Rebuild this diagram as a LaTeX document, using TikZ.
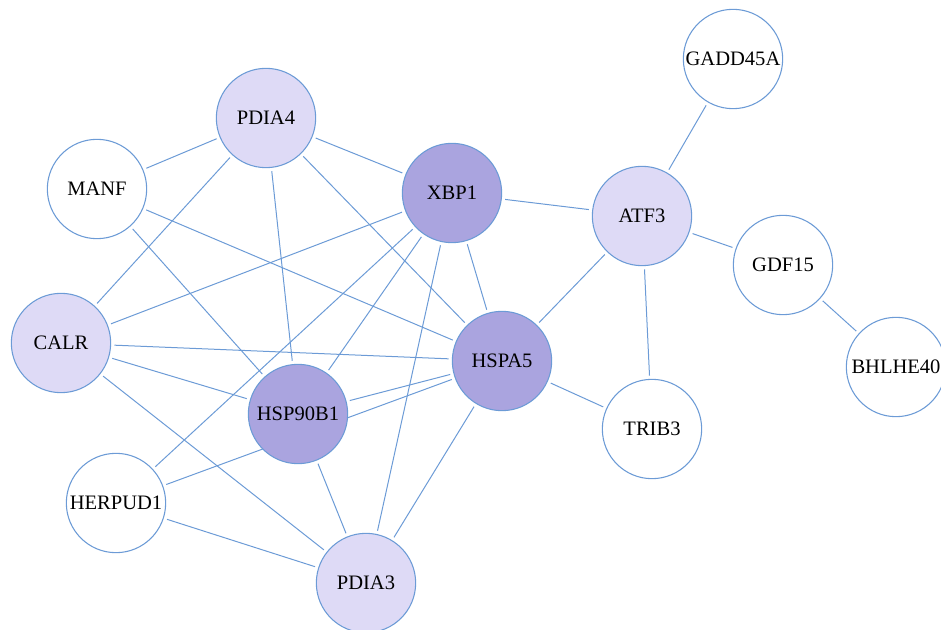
\documentclass[tikz,border=0pt]{standalone}
\usepackage{fontspec}
\setmainfont{Liberation Serif}
\usepackage{xcolor}
\usetikzlibrary{backgrounds}

\definecolor{edgeblue}{HTML}{6C9BD6}
\definecolor{lightviolet}{HTML}{DEDAF6}
\definecolor{darkviolet}{HTML}{AAA4DF}

\begin{document}
\begin{tikzpicture}[x=0.75pt,y=-0.75pt,
		gene/.style={circle,draw=edgeblue,line width=0.8pt,fill=white,minimum size=74.5pt,inner sep=0pt,font=\fontsize{15.4}{18}\selectfont},
		mid/.style={gene,fill=lightviolet},
		hub/.style={gene,fill=darkviolet},
		link/.style={edgeblue,line width=0.75pt,shorten <=2.5pt,shorten >=2.5pt}]
		
		\useasboundingbox (0,0) rectangle (941,630);
		
		% Genes
		\node[gene] (GADD45A) at (733,59)  {GADD45A};
		\node[mid]  (PDIA4)   at (266,118) {PDIA4};
		\node[gene] (MANF)    at (97,189)  {MANF};
		\node[hub]  (XBP1)    at (452,193) {XBP1};
		\node[mid]  (ATF3)    at (642,216) {ATF3};
		\node[gene] (GDF15)   at (783,265) {GDF15};
		\node[mid]  (CALR)    at (61,343)  {CALR};
		\node[hub]  (HSPA5)   at (502,361) {HSPA5};
		\node[gene] (BHLHE40) at (896,367) {BHLHE40};
		\node[hub]  (HSP90B1) at (298,414) {HSP90B1};
		\node[gene] (TRIB3)   at (652,429) {TRIB3};
		\node[gene] (HERPUD1) at (116,503) {HERPUD1};
		\node[mid]  (PDIA3)   at (366,583) {PDIA3};
		
		% Interactions
		\begin{scope}[on background layer]
			\foreach \a/\b in {GADD45A/ATF3, ATF3/GDF15, GDF15/BHLHE40, ATF3/XBP1,
				ATF3/HSPA5, ATF3/TRIB3, HSPA5/TRIB3, PDIA4/MANF, PDIA4/XBP1,
				PDIA4/CALR, PDIA4/HSP90B1, PDIA4/HSPA5, MANF/HSPA5, MANF/HSP90B1,
				XBP1/CALR, XBP1/HSPA5, XBP1/HSP90B1, XBP1/HERPUD1, XBP1/PDIA3,
				CALR/HSPA5, CALR/HSP90B1, CALR/PDIA3, HSP90B1/HSPA5, HERPUD1/HSPA5,
				HSPA5/PDIA3, HSP90B1/PDIA3, HERPUD1/PDIA3} {
				\draw[link] (\a) -- (\b);
			}
		\end{scope}
		
	\end{tikzpicture}
\end{document}
